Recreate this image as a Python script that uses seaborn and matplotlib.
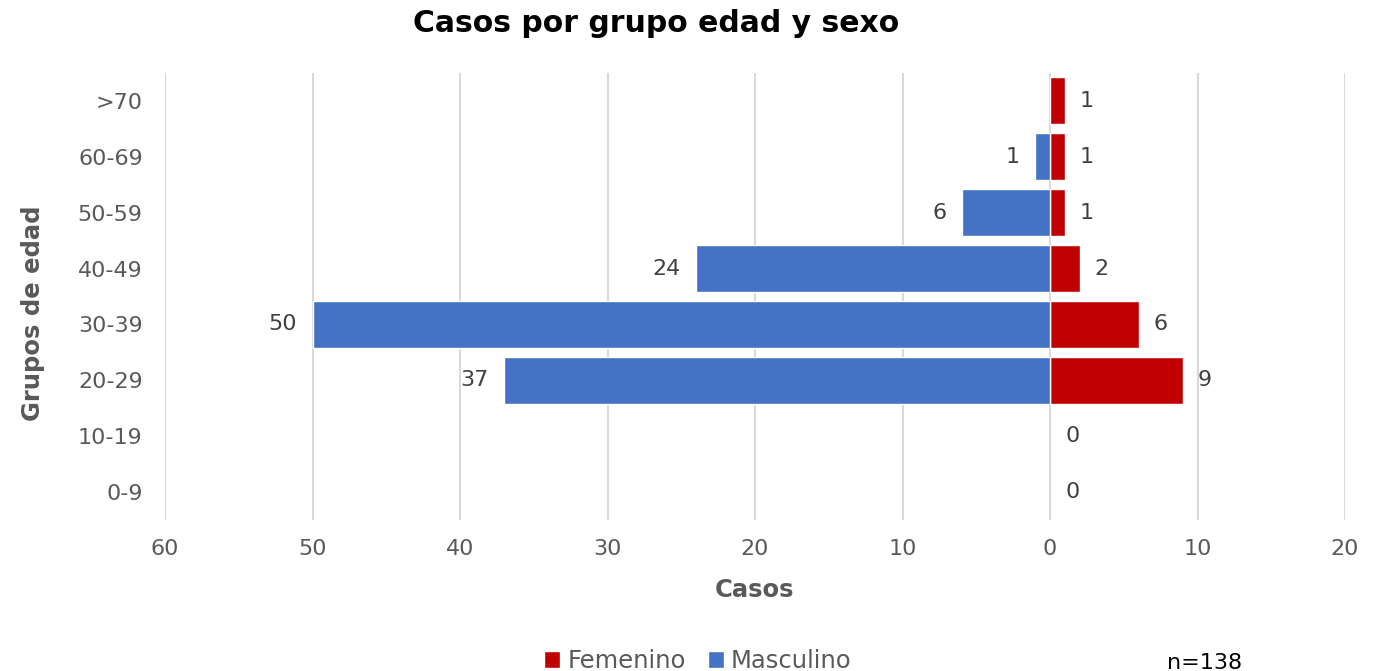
import matplotlib
matplotlib.use("Agg")
import matplotlib.pyplot as plt
import seaborn as sns
import pandas as pd
from matplotlib.patches import Patch
from matplotlib.ticker import FixedLocator, FixedFormatter

# ---- data ----
grupos = [">70", "60-69", "50-59", "40-49", "30-39", "20-29", "10-19", "0-9"]
femenino = [1, 1, 1, 2, 6, 9, 0, 0]
masculino = [0, 1, 6, 24, 50, 37, 0, 0]
x_ticks = [-60, -50, -40, -30, -20, -10, 0, 10, 20]
x_tick_labels = ["60", "50", "40", "30", "20", "10", "0", "10", "20"]
total_n = 138

sns.set_theme(style="white")
plt.rcParams['font.family'] = ['DejaVu Sans']

df = pd.DataFrame({
    "Grupo": grupos * 2,
    "Casos": femenino + [-m for m in masculino],
    "Sexo": ["Femenino"] * len(grupos) + ["Masculino"] * len(grupos),
})
colors = {"Femenino": "#C00000", "Masculino": "#4472C4"}

fig = plt.figure(figsize=(13.78, 6.71), dpi=100)
ax = fig.add_axes([165 / 1378, 1 - 520 / 671, 1180 / 1378, 447 / 671])

sns.barplot(data=df, y="Grupo", x="Casos", hue="Sexo", order=grupos,
            hue_order=["Femenino", "Masculino"], palette=colors, dodge=False,
            saturation=1, width=0.84, edgecolor="white", linewidth=1, ax=ax,
            legend=False, orient="h")

for cont in ax.containers:
    for p in cont.patches:
        if p.get_width() == 0:
            p.set_linewidth(0)

# data labels
lab_color = "#404040"
ax.bar_label(ax.containers[0], labels=[str(v) for v in femenino], padding=11,
             fontsize=16, color=lab_color)
ax.bar_label(ax.containers[1], labels=[str(v) if v != 0 else "" for v in masculino],
             padding=11, fontsize=16, color=lab_color)

ax.set_xlim(-60, 20)
ax.set_ylim(len(grupos) - 0.5, -0.5)
ax.xaxis.set_major_locator(FixedLocator(x_ticks))
ax.xaxis.set_major_formatter(FixedFormatter(x_tick_labels))
ax.xaxis.grid(True, color="#D9D9D9", linewidth=1.5)
ax.yaxis.grid(False)
ax.set_axisbelow(True)
for s in ax.spines.values():
    s.set_visible(False)
ax.tick_params(axis="x", length=0, pad=14, labelsize=16, labelcolor="#595959")
ax.tick_params(axis="y", length=0, pad=16, labelsize=16, labelcolor="#595959")
ax.set_xlabel("")
ax.set_ylabel("")

fig.text(656 / 1378, 1 - 23 / 671, "Casos por grupo edad y sexo", ha="center",
         va="center", fontsize=21.5, fontweight="bold", color="black")
fig.text(33 / 1378, 1 - 313 / 671, "Grupos de edad", rotation=90, ha="center",
         va="center", fontsize=17.5, fontweight="bold", color="#595959")
fig.text(755 / 1378, 1 - 590 / 671, "Casos", ha="center", va="center",
         fontsize=17.5, fontweight="bold", color="#595959")

handles = [Patch(facecolor=colors["Femenino"], label="Femenino"),
           Patch(facecolor=colors["Masculino"], label="Masculino")]
leg = fig.legend(handles=handles, loc="center", bbox_to_anchor=(698 / 1378, 1 - 661 / 671),
                 ncol=2, frameon=False, handlelength=0.65, handleheight=0.65,
                 handletextpad=0.3, columnspacing=0.9, fontsize=17.5)
for t in leg.get_texts():
    t.set_color("#595959")

fig.text(1167 / 1378, 1 - 663 / 671, f"n={total_n}", ha="left", va="center",
         fontsize=16, color="black")

fig.savefig("out.png", dpi=100)
